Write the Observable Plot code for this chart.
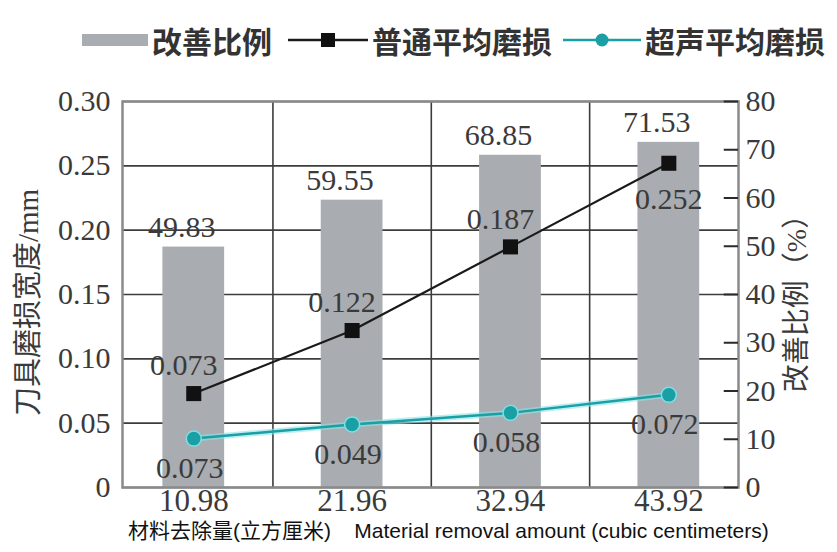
<!DOCTYPE html>
<html>
<head>
<meta charset="utf-8">
<script src="https://cdn.jsdelivr.net/npm/d3@7"></script>
<script src="https://cdn.jsdelivr.net/npm/@observablehq/plot@0.6"></script>
<style>
  html, body { margin: 0; padding: 0; background: #fff; }
  #wrap { position: relative; width: 837px; height: 552px; overflow: hidden; }
  #legend { position: absolute; left: 0; top: 0; width: 837px; height: 70px; }
  .lg-item { position: absolute; top: 22px; height: 36px; display: flex; align-items: center; }
  .lg-text { font-family: "Noto Sans CJK SC", sans-serif; font-weight: 700; font-size: 30px; color: #333; line-height: 36px; white-space: nowrap; }
  #chart { position: absolute; left: 0; top: 70px; }
  #chart svg text { font-family: "Liberation Serif", "Noto Sans CJK SC", serif; }
  #caption { position: absolute; left: 0; top: 514px; width: 837px; height: 30px; font-family: "Liberation Sans", "Noto Sans CJK SC", sans-serif; font-size: 21px; color: #111; white-space: pre; }
</style>
</head>
<body>
<div id="wrap">
  <div id="legend"></div>
  <div id="chart"></div>
  <div id="caption"></div>
</div>
<script>
// ---- data ----
const categories = ["10.98", "21.96", "32.94", "43.92"];
const improvement = [49.83, 59.55, 68.85, 71.53];
const improvementLabels = ["49.83", "59.55", "68.85", "71.53"];
const normalWear = [0.073, 0.122, 0.187, 0.252];
const normalLabels = ["0.073", "0.122", "0.187", "0.252"];
const ultrasonicWear = [0.038, 0.049, 0.058, 0.072];
const ultrasonicLabels = ["0.073", "0.049", "0.058", "0.072"];
const leftTicks = [0, 0.05, 0.10, 0.15, 0.20, 0.25, 0.30];
const leftTickLabels = ["0", "0.05", "0.10", "0.15", "0.20", "0.25", "0.30"];
const rightTicks = [0, 10, 20, 30, 40, 50, 60, 70, 80];
const seriesNames = ["改善比例", "普通平均磨损", "超声平均磨损"];
const leftTitle = "刀具磨损宽度/mm";
const rightTitle = "改善比例（%）";
const captionText = "材料去除量(立方厘米)    Material removal amount (cubic centimeters)";

const leftMax = 0.30, rightMax = 80;
const toLeft = v => v * leftMax / rightMax;

const rows = categories.map((c, i) => ({
  i, c,
  imp: improvement[i], impLabel: improvementLabels[i],
  normal: normalWear[i], normalLabel: normalLabels[i],
  ultra: ultrasonicWear[i], ultraLabel: ultrasonicLabels[i]
}));
const boundaries = categories.slice(1).map((_, i) => i + 0.5);
const xDomain = [-0.45, 3.44];
const tickLen = 0.09; // in x-units (~14px)
const rightTickRows = rightTicks.map(v => ({ y: toLeft(v), xa: xDomain[1] - tickLen, xb: xDomain[1] }));

const serif = "'Liberation Serif', serif";
const cjk = "'Noto Sans CJK SC', sans-serif";
const textColor = "#3a3a3a";
const barColor = "#a9acb0";
const cyan = "#1a9fa4";

const chart = Plot.plot({
  width: 837,
  height: 445,
  marginLeft: 122,
  marginRight: 99,
  marginTop: 31,
  marginBottom: 28,
  style: { fontFamily: serif, fontSize: "30px", color: textColor, background: "white", overflow: "visible" },
  x: { type: "linear", domain: xDomain, axis: null },
  y: { domain: [0, leftMax], axis: null },
  marks: [
    // gridlines
    Plot.ruleY(leftTicks, { stroke: "#3c3c3c", strokeWidth: 1.6 }),
    Plot.ruleX(boundaries, { stroke: "#3c3c3c", strokeWidth: 1.6 }),
    // bars (right axis, improvement %)
    Plot.rectY(rows, { x1: d => d.i - 0.195, x2: d => d.i + 0.195, y1: 0, y2: d => toLeft(d.imp), fill: barColor }),
    Plot.frame({ stroke: "#8a8a8a", strokeWidth: 2.5 }),
    // right axis inward tick marks
    Plot.ruleY(rightTickRows, { y: "y", x1: "xa", x2: "xb", stroke: "#2a2a2a", strokeWidth: 2 }),
    // ultrasonic line with halo
    Plot.line(rows, { x: "i", y: "ultra", stroke: "#8fe3e8", strokeWidth: 6, strokeOpacity: 0.6 }),
    Plot.line(rows, { x: "i", y: "ultra", stroke: cyan, strokeWidth: 2.5 }),
    Plot.dot(rows, { x: "i", y: "ultra", r: 7.5, fill: cyan, stroke: "#7fdfe4", strokeWidth: 1.5 }),
    // normal line
    Plot.line(rows, { x: "i", y: "normal", stroke: "#1a1a1a", strokeWidth: 2.2 }),
    Plot.dot(rows, { x: "i", y: "normal", symbol: "square", r: 8.5, fill: "#111" }),
    // labels
    Plot.text(rows, { x: "i", y: d => toLeft(d.imp), text: "impLabel", dy: -20, dx: -12, fill: textColor, fontFamily: serif, fontSize: 30 }),
    Plot.text(rows.filter(d => d.i < 3), { x: "i", y: "normal", text: "normalLabel", dy: -28, dx: -10, fill: textColor, fontFamily: serif, fontSize: 30 }),
    Plot.text(rows.filter(d => d.i === 3), { x: "i", y: "normal", text: "normalLabel", dy: 36, fill: textColor, fontFamily: serif, fontSize: 30 }),
    Plot.text(rows, { x: "i", y: "ultra", text: "ultraLabel", dy: 30, dx: -4, fill: textColor, fontFamily: serif, fontSize: 30 }),
    // left axis
    Plot.axisY({ anchor: "left", ticks: leftTicks, tickFormat: d => leftTickLabels[leftTicks.indexOf(d)], tickSize: 0, tickPadding: 12, label: null, fontSize: 30, fontFamily: serif }),
    // right axis labels
    Plot.axisY({ anchor: "right", ticks: rightTicks.map(toLeft), tickFormat: d => String(Math.round(d * rightMax / leftMax)), tickSize: 0, tickPadding: 7, label: null, fontSize: 30, fontFamily: serif }),
    // x axis labels
    Plot.axisX({ ticks: rows.map(d => d.i), tickFormat: i => categories[i], tickSize: 0, tickPadding: 1, label: null, fontSize: 31, fontFamily: serif }),
    // axis titles
    Plot.text([leftTitle], { frameAnchor: "left", textAnchor: "middle", dx: -94, dy: 8, rotate: -90, fontFamily: cjk, fontSize: 29, fill: textColor }),
    Plot.text([rightTitle], { frameAnchor: "right", textAnchor: "middle", dx: 59, dy: 2, rotate: -90, fontFamily: cjk, fontSize: 28, fill: textColor })
  ]
});
document.getElementById("chart").appendChild(chart);

// legend
const legend = document.getElementById("legend");
function addItem(left, swatchSvg, label) {
  const el = document.createElement("div");
  el.className = "lg-item";
  el.style.left = left + "px";
  el.innerHTML = swatchSvg + `<span class="lg-text">${label}</span>`;
  legend.appendChild(el);
}
addItem(82, `<svg width="70" height="36"><line x1="0" x2="66" y1="18" y2="18" stroke="${barColor}" stroke-width="12"/></svg>`, seriesNames[0]);
addItem(286, `<svg width="86" height="36"><line x1="2" x2="82" y1="18" y2="18" stroke="#1a1a1a" stroke-width="2.5"/><rect x="35" y="11" width="14" height="14" fill="#111"/></svg>`, seriesNames[1]);
addItem(561, `<svg width="84" height="36"><line x1="2" x2="80" y1="18" y2="18" stroke="${cyan}" stroke-width="2.5"/><circle cx="41" cy="18" r="6.5" fill="${cyan}"/></svg>`, seriesNames[2]);

// caption
const cap = document.getElementById("caption");
cap.style.paddingLeft = "128px";
cap.textContent = captionText;
</script>
</body>
</html>
